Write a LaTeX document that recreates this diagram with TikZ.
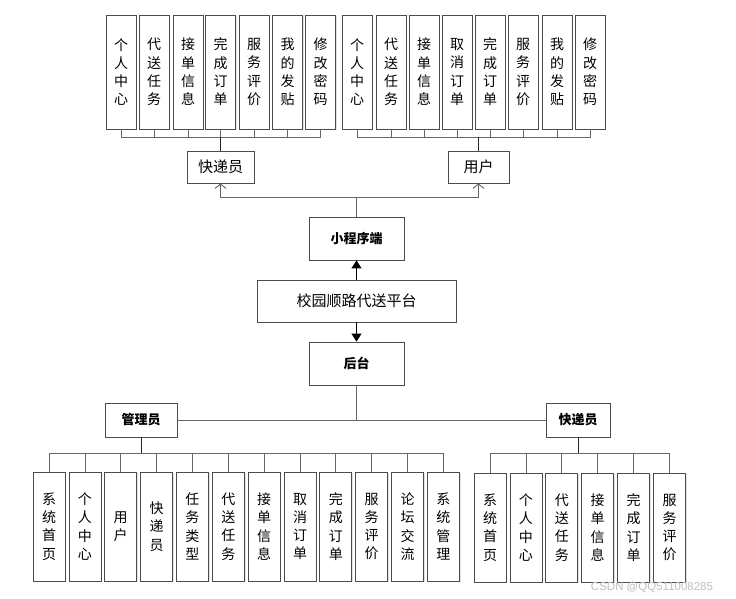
\documentclass[tikz,border=0pt]{standalone}
\usepackage{fontspec}
\setmainfont{Noto Sans CJK SC}
\newfontfamily\markfont{Liberation Sans}
\usetikzlibrary{arrows.meta,shadows}

\begin{document}
\begin{tikzpicture}[
        x=1pt, y=-1pt,
        vbox/.style={
            rectangle,
            draw=black!70,
            fill=white,
            line width=0.8pt,
            align=center,
            minimum width=30pt,
            minimum height=114pt,
            inner sep=0pt,
            font=\fontsize{14}{18.3}\selectfont,
            drop shadow={shadow xshift=1.2pt, shadow yshift=-1.2pt, opacity=0.12, fill=blue!40!black}
        },
        lbox/.style={
            vbox,
            minimum width=32pt,
            minimum height=109pt
        },
        block/.style={
            rectangle,
            draw=black!70,
            fill=white,
            line width=0.8pt,
            align=center,
            inner sep=0pt,
            font=\fontsize{15}{18}\selectfont,
            drop shadow={shadow xshift=1.2pt, shadow yshift=-1.2pt, opacity=0.12, fill=blue!40!black}
        },
        head/.style={
            block,
            font=\fontsize{13}{16}\selectfont\bfseries
        },
        link/.style={
            draw=black!60,
            line width=0.8pt
        },
        arrow/.style={
            -{Straight Barb[length=4.5pt,width=11pt]},
            draw=black!60,
            line width=0.9pt
        },
        bigarrow/.style={
            -{Triangle[length=8pt,width=10pt]},
            draw=black,
            line width=0.9pt
        }
    ]

        \useasboundingbox (0,0) rectangle (736,599);

        % courier functions (mini program)
        \node[vbox] (k1) at (121,72) {个\\人\\中\\心};
        \node[vbox] (k2) at (154,72) {代\\送\\任\\务};
        \node[vbox] (k3) at (188,72) {接\\单\\信\\息};
        \node[vbox] (k4) at (220.5,72) {完\\成\\订\\单};
        \node[vbox] (k5) at (254,72) {服\\务\\评\\价};
        \node[vbox] (k6) at (287.5,72) {我\\的\\发\\贴};
        \node[vbox] (k7) at (320.5,72) {修\\改\\密\\码};

        % user functions (mini program)
        \node[vbox] (u1) at (357,72) {个\\人\\中\\心};
        \node[vbox] (u2) at (391,72) {代\\送\\任\\务};
        \node[vbox] (u3) at (424,72) {接\\单\\信\\息};
        \node[vbox] (u4) at (457,72) {取\\消\\订\\单};
        \node[vbox] (u5) at (490,72) {完\\成\\订\\单};
        \node[vbox] (u6) at (523,72) {服\\务\\评\\价};
        \node[vbox] (u7) at (557,72) {我\\的\\发\\贴};
        \node[vbox] (u8) at (590,72) {修\\改\\密\\码};

        \node[block, minimum width=67pt, minimum height=32pt] (courier) at (220.5,167) {快递员};
        \node[block, minimum width=61pt, minimum height=32pt] (user) at (478.5,167) {用户};

        \node[head, minimum width=95pt, minimum height=43pt] (mini) at (356.5,238.5) {小程序端};
        \node[block, minimum width=199pt, minimum height=42pt] (platform) at (356.5,301) {校园顺路代送平台};
        \node[head, minimum width=95pt, minimum height=43pt] (backend) at (356.5,363.5) {后台};

        \node[head, minimum width=72pt, minimum height=34pt] (admin) at (141,420) {管理员};
        \node[head, minimum width=64pt, minimum height=34pt] (staff) at (578,420) {快递员};

        % admin functions (backend)
        \node[lbox] (a1) at (49,526.5) {系\\统\\首\\页};
        \node[lbox] (a2) at (84.9,526.5) {个\\人\\中\\心};
        \node[lbox] (a3) at (120.7,526.5) {用\\户};
        \node[lbox] (a4) at (156.6,526.5) {快\\递\\员};
        \node[lbox] (a5) at (192.4,526.5) {任\\务\\类\\型};
        \node[lbox] (a6) at (228.3,526.5) {代\\送\\任\\务};
        \node[lbox] (a7) at (264.1,526.5) {接\\单\\信\\息};
        \node[lbox] (a8) at (300,526.5) {取\\消\\订\\单};
        \node[lbox] (a9) at (335.8,526.5) {完\\成\\订\\单};
        \node[lbox] (a10) at (371.7,526.5) {服\\务\\评\\价};
        \node[lbox] (a11) at (407.5,526.5) {论\\坛\\交\\流};
        \node[lbox] (a12) at (443.4,526.5) {系\\统\\管\\理};

        % courier functions (backend)
        \node[lbox] (s1) at (490,527.5) {系\\统\\首\\页};
        \node[lbox] (s2) at (525.9,527.5) {个\\人\\中\\心};
        \node[lbox] (s3) at (561.8,527.5) {代\\送\\任\\务};
        \node[lbox] (s4) at (597.7,527.5) {接\\单\\信\\息};
        \node[lbox] (s5) at (633.6,527.5) {完\\成\\订\\单};
        \node[lbox] (s6) at (669.5,527.5) {服\\务\\评\\价};

        \node[text=black!25, font=\markfont\fontsize{11.5}{14}\selectfont] (mark) at (652,587) {CSDN @QQ511008285};

        \coordinate (kbus) at (220.5,137);
        \coordinate (ubus) at (478.5,137);
        \coordinate (split) at (356.5,197);
        \coordinate (abus) at (141,453);
        \coordinate (sbus) at (578,453);

        \draw[link] (k1.south) |- (kbus);
        \draw[link] (k2.south) |- (kbus);
        \draw[link] (k3.south) |- (kbus);
        \draw[link] (k4.south) |- (kbus);
        \draw[link] (k5.south) |- (kbus);
        \draw[link] (k6.south) |- (kbus);
        \draw[link] (k7.south) |- (kbus);
        \draw[link, draw=black!85] (kbus) -- (courier.north);

        \draw[link] (u1.south) |- (ubus);
        \draw[link] (u2.south) |- (ubus);
        \draw[link] (u3.south) |- (ubus);
        \draw[link] (u4.south) |- (ubus);
        \draw[link] (u5.south) |- (ubus);
        \draw[link] (u6.south) |- (ubus);
        \draw[link] (u7.south) |- (ubus);
        \draw[link] (u8.south) |- (ubus);
        \draw[link, draw=black!85] (ubus) -- (user.north);

        \draw[link] (mini.north) -- (split);
        \draw[arrow] (split) -| (courier.south);
        \draw[arrow] (split) -| (user.south);

        \draw[bigarrow] (platform.north) -- (mini.south);
        \draw[bigarrow] (platform.south) -- (backend.north);

        \draw[link] (backend.south) -- (backend.south |- admin.east);
        \draw[link] (admin.east) -- (staff.west);

        \draw[link] (a1.north) |- (abus);
        \draw[link] (a2.north) |- (abus);
        \draw[link] (a3.north) |- (abus);
        \draw[link] (a4.north) |- (abus);
        \draw[link] (a5.north) |- (abus);
        \draw[link] (a6.north) |- (abus);
        \draw[link] (a7.north) |- (abus);
        \draw[link] (a8.north) |- (abus);
        \draw[link] (a9.north) |- (abus);
        \draw[link] (a10.north) |- (abus);
        \draw[link] (a11.north) |- (abus);
        \draw[link] (a12.north) |- (abus);
        \draw[link, draw=black!85] (abus) -- (admin.south);

        \draw[link] (s1.north) |- (sbus);
        \draw[link] (s2.north) |- (sbus);
        \draw[link] (s3.north) |- (sbus);
        \draw[link] (s4.north) |- (sbus);
        \draw[link] (s5.north) |- (sbus);
        \draw[link] (s6.north) |- (sbus);
        \draw[link, draw=black!85] (sbus) -- (staff.south);

    \end{tikzpicture}
\end{document}
